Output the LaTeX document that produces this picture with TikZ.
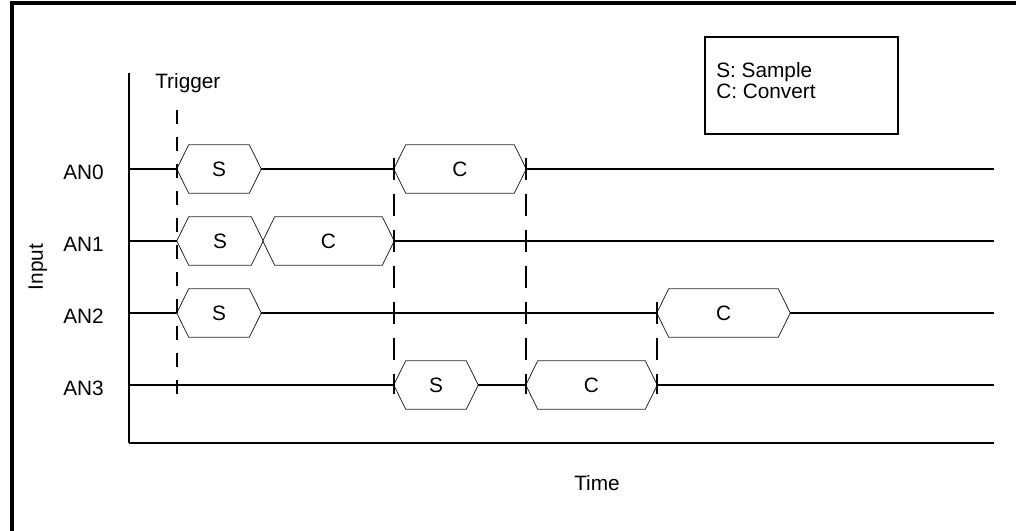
\documentclass[tikz,border=0pt]{standalone}
\usepackage{fontspec}
\setmainfont{Liberation Sans}
\usetikzlibrary{calc}

% hexagonal sample/convert window: name, left tip x, right tip x, row y, label
\newcommand{\hexsig}[5]{%
  \node[hexnode, minimum width={(#3-#2)*0.75}] (#1) at ({(#2+#3)/2},#4) {#5};
  \draw[hexline] (#1.west) -- ($(#1.north west)+(12,0)$) -- ($(#1.north east)+(-12,0)$)
    -- (#1.east) -- ($(#1.south east)+(-12,0)$) -- ($(#1.south west)+(12,0)$) -- cycle;
}

\begin{document}
\begin{tikzpicture}[x=0.75pt,y=-0.75pt,
  font=\fontsize{15.6}{18.7}\selectfont,
  hexnode/.style={inner sep=0pt, minimum height=36pt},
  hexline/.style={line width=0.6pt, black!85},
  sig/.style={line width=0.8pt},
  guide/.style={line width=1.1pt, dash pattern=on 16.5pt off 10.5pt},
  trig/.style={line width=1.1pt, dash pattern=on 10.5pt off 9.75pt},
  lbl/.style={inner sep=0pt, anchor=base west}]
\useasboundingbox (0,0) rectangle (1016,531);

% outer frame
\draw[line width=2.4pt] (12,531) -- (12,3) -- (1016,3);

% axes
\coordinate (ytop) at (129,73);
\coordinate (orig) at (129,443);
\coordinate (xend) at (994,443);
\draw[line width=0.8pt] (ytop) -- (orig);
\draw[line width=1.6pt] (orig) -- (xend);

% axis captions
\node[rotate=90] (input) at (38,267) {Input};
\node (time) at (597,483) {Time};
\node[lbl] (trigger) at (155,89) {Trigger};

% legend
\node[draw, line width=1.5pt, minimum width={193*0.75}, minimum height={97*0.75}, inner sep=0pt]
  (legend) at (801.5,85.5) {};
\node[lbl] (legS) at (716,77.7) {S: Sample};
\node[lbl] (legC) at (716,98.3) {C: Convert};

% channel labels
\node[lbl] (an0) at (63,179) {AN0};
\node[lbl] (an1) at (63,251) {AN1};
\node[lbl] (an2) at (63,323) {AN2};
\node[lbl] (an3) at (63,395) {AN3};

% row ends
\coordinate (r0a) at (129,169); \coordinate (r0b) at (994,169);
\coordinate (r1a) at (129,241); \coordinate (r1b) at (994,241);
\coordinate (r2a) at (129,313); \coordinate (r2b) at (994,313);
\coordinate (r3a) at (129,385); \coordinate (r3b) at (994,385);

% sample / convert windows
\hexsig{s0}{177}{261}{169}{S}
\hexsig{c0}{394}{526}{169}{C}
\hexsig{s1}{177}{263}{241}{S}
\hexsig{c1}{263}{394}{241}{C}
\hexsig{s2}{177}{261}{313}{S}
\hexsig{c2}{657}{790}{313}{C}
\hexsig{s3}{394}{478}{385}{S}
\hexsig{c3}{526}{657}{385}{C}

% channel lines
\draw[sig] (r0a) -- (s0.west) (s0.east) -- (c0.west) (c0.east) -- (r0b);
\draw[sig] (r1a) -- (s1.west) (c1.east) -- (r1b);
\draw[sig] (r2a) -- (s2.west) (s2.east) -- (c2.west) (c2.east) -- (r2b);
\draw[sig] (r3a) -- (s3.west) (s3.east) -- (c3.west) (c3.east) -- (r3b);

% timing guides
\coordinate (g0a) at (177,110); \coordinate (g0b) at (177,394);
\coordinate (g1a) at (394,158); \coordinate (g1b) at (394,394);
\coordinate (g2a) at (526,158); \coordinate (g2b) at (526,394);
\coordinate (g3a) at (657,302); \coordinate (g3b) at (657,394);
\draw[trig] (g0a) -- (g0b);
\draw[guide] (g1a) -- (g1b);
\draw[guide] (g2a) -- (g2b);
\draw[guide] (g3a) -- (g3b);
\end{tikzpicture}
\end{document}
